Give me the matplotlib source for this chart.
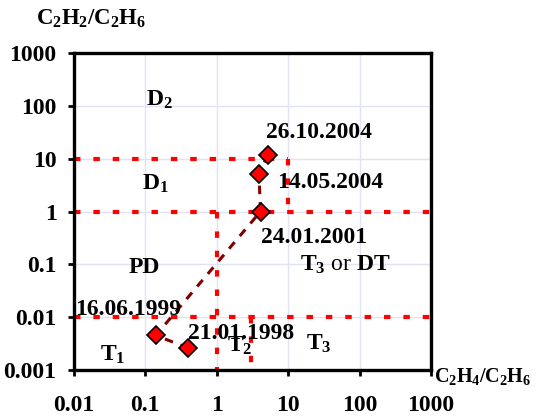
import numpy as np
import matplotlib
matplotlib.use('Agg')
import matplotlib.pyplot as plt

plt.rcParams['font.family'] = ['Liberation Serif', 'DejaVu Serif']
plt.rcParams['font.weight'] = 'bold'
plt.rcParams['mathtext.fontset'] = 'custom'
plt.rcParams['mathtext.rm'] = 'Liberation Serif:bold'
plt.rcParams['mathtext.it'] = 'Liberation Serif:bold'
plt.rcParams['mathtext.bf'] = 'Liberation Serif:bold'

# gas ratios of the samples, in date order
dates = ['21.01.1998', '16.06.1999', '24.01.2001', '14.05.2004', '26.10.2004']
c2h4_c2h6 = [0.40, 0.14, 4.1, 3.9, 5.2]
c2h2_c2h6 = [0.0026, 0.0045, 1.0, 5.2, 11.8]

ticks = [0.01, 0.1, 1, 10, 100, 1000]
tick_labels = ['0.01', '0.1', '1', '10', '100', '1000']
yticks = [0.001, 0.01, 0.1, 1, 10, 100, 1000]
ytick_labels = ['0.001', '0.01', '0.1', '1', '10', '100', '1000']

# fault zone borders: (x0, x1, y0, y1)
borders = [(0.01, 10, 10, 10),
           (10, 10, 10, 1),
           (0.01, 1000, 1, 1),
           (1, 1, 1, 0.001),
           (0.01, 1000, 0.01, 0.01),
           (3, 3, 0.01, 0.001)]

# zone names, placed by their left end and baseline
zones = [('D$_2$', 0.102, 100), ('D$_1$', 0.09, 2.57), ('PD', 0.059, 0.069),
         ('T$_1$', 0.023, 0.00148), ('T$_2$', 1.38, 0.0022),
         ('T$_3$', 17.8, 0.0024)]

fig = plt.figure(figsize=(5.36, 4.18), dpi=100)
ax = fig.add_axes([0.138, 0.115, 0.666, 0.758])
ax.set_xscale('log')
ax.set_yscale('log')
ax.set_xlim(0.01, 1000)
ax.set_ylim(0.001, 1000)

ax.grid(True, which='major', color='#e2e2f6', lw=1.0, zorder=0)
ax.minorticks_off()

for x0, x1, y0, y1 in borders:
    ax.plot([x0, x1], [y0, y1], color='#ff0000', lw=3, dashes=[1.55, 3.1],
            zorder=2, dash_capstyle='butt')

ax.plot(c2h4_c2h6, c2h2_c2h6, color='#800000', lw=2.2, dashes=[2.8, 2.6],
        zorder=3, dash_capstyle='butt')
ax.plot(c2h4_c2h6, c2h2_c2h6, 'D', ms=9.5, mfc='#ff0000', mec='black',
        mew=1.2, ls='none', zorder=4)

fs = 17
for name, x, y in zones:
    ax.text(x, y, name, fontsize=fs, ha='left', va='baseline', zorder=5)
ax.text(14.6, 0.075, '$T_3$ or $DT$', fontsize=fs, fontweight='normal',
        ha='left', va='baseline', zorder=5)

# date labels next to the points
offsets = [(-0.5, 10.6), (-58, 18.5), (0, -19), (13, -6), (-1, 16)]
for i in range(len(dates)):
    ax.annotate(dates[i], (c2h4_c2h6[i], c2h2_c2h6[i]), xytext=offsets[i],
                textcoords='offset points', fontsize=fs, ha='left',
                va='center', zorder=5)

ax.set_xticks(ticks)
ax.set_xticklabels(tick_labels)
ax.set_yticks(yticks)
ax.set_yticklabels(ytick_labels)
ax.tick_params(axis='x', direction='out', length=4, width=2, labelsize=fs, pad=14)
ax.tick_params(axis='y', direction='out', length=4.5, width=2, labelsize=fs, pad=8)
for s in ax.spines.values():
    s.set_linewidth(2.4)

fig.text(36 / 536, 1 - 25 / 418, r'$C_2H_2/C_2H_6$', fontsize=16.5,
         ha='left', va='baseline')
fig.text(434 / 536, 1 - 382 / 418, r'$C_2H_4/C_2H_6$', fontsize=14.5,
         ha='left', va='baseline')

fig.savefig('out.png', dpi=100)
